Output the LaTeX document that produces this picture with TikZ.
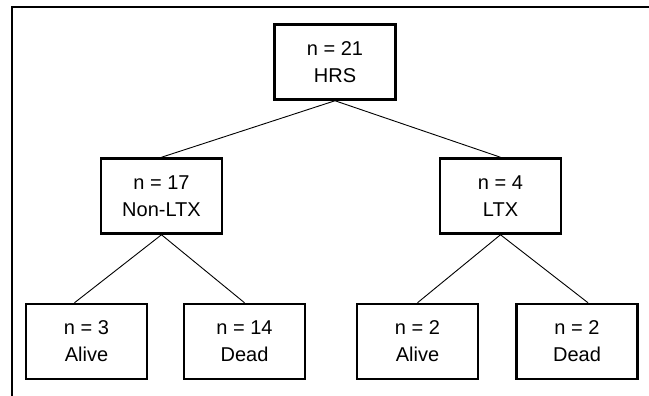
\documentclass[tikz,border=0pt]{standalone}
\usepackage{fontspec}
\setmainfont{Liberation Sans}
\begin{document}
\begin{tikzpicture}[x=1pt,y=-1pt,
    box/.style={draw, line width=2.5pt, minimum width=121pt, minimum height=75pt,
                align=center, inner sep=0pt, font=\fontsize{20}{27}\selectfont},
    link/.style={line width=0.9pt}]
        \useasboundingbox (0,0) rectangle (649,396);

        % Cornice
        \draw[line width=1.5pt] (12,396) -- (12,7) -- (649,7);

        % Radice
        \node[box] (hrs) at (335,62) {n = 21\\HRS};

        % Livello 2
        \node[box] (nonltx) at (161.5,196) {n = 17\\Non-LTX};
        \node[box] (ltx) at (500.5,196) {n = 4\\LTX};

        % Foglie
        \node[box] (alive1) at (86.5,341.5) {n = 3\\Alive};
        \node[box] (dead1) at (244.5,341.5) {n = 14\\Dead};
        \node[box] (alive2) at (417.5,341.5) {n = 2\\Alive};
        \node[box] (dead2) at (577,341.5) {n = 2\\Dead};

        % Collegamenti
        \draw[link] (hrs.south) -- (nonltx.north);
        \draw[link] (hrs.south) -- (ltx.north);
        \draw[link] (nonltx.south) -- ([xshift=-12pt]alive1.north);
        \draw[link] (nonltx.south) -- (dead1.north);
        \draw[link] (ltx.south) -- (alive2.north);
        \draw[link] (ltx.south) -- ([xshift=11pt]dead2.north);
    \end{tikzpicture}
\end{document}
